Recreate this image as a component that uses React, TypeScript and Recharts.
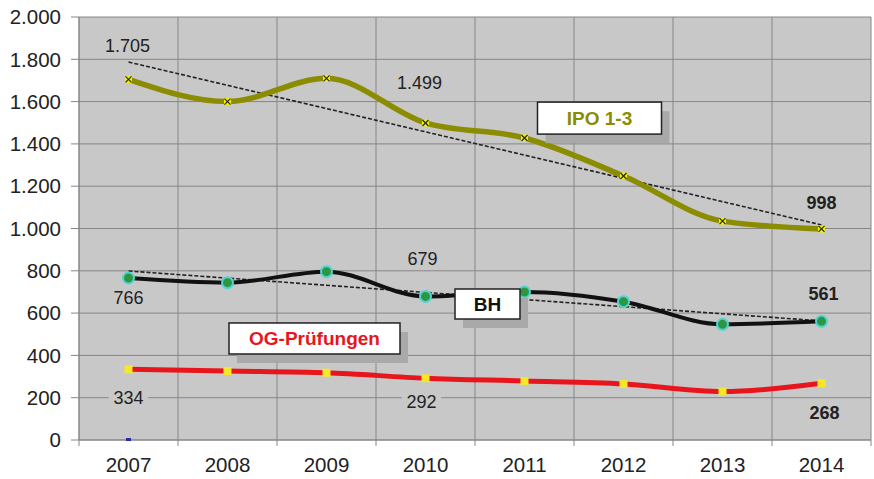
import React from 'react';
import { LineChart, Line, XAxis, YAxis, CartesianGrid, LabelList, ReferenceDot } from 'recharts';

const years = ['2007', '2008', '2009', '2010', '2011', '2012', '2013', '2014'];
const ipo = [1705, 1600, 1710, 1499, 1428, 1248, 1035, 998];
const bh = [766, 744, 796, 679, 700, 654, 547, 561];
const og = [334, 326, 318, 292, 279, 265, 229, 268];
// trend lines, only first and last year
const ipoTrend = [1787, null, null, null, null, null, null, 1017];
const bhTrend = [799, null, null, null, null, null, null, 563];
const baseMark = [0, null, null, null, null, null, null, null];
const yTicks = [0, 200, 400, 600, 800, 1000, 1200, 1400, 1600, 1800, 2000];

// which points get a value label, with offset and weight
const ipoLabels: Record<number, { dx: number; dy: number; bold?: boolean }> = {
  0: { dx: -1, dy: -34 },
  3: { dx: -6, dy: -40 },
  7: { dx: 0, dy: -26, bold: true },
};
const bhLabels: Record<number, { dx: number; dy: number; bold?: boolean }> = {
  0: { dx: 0, dy: 20 },
  3: { dx: -3, dy: -38 },
  7: { dx: 2, dy: -28, bold: true },
};
const ogLabels: Record<number, { dx: number; dy: number; bold?: boolean }> = {
  0: { dx: 0, dy: 28 },
  3: { dx: -4, dy: 23 },
  7: { dx: 3, dy: 29, bold: true },
};

const data = years.map((y, i) => ({
  year: y,
  ipo: ipo[i],
  bh: bh[i],
  og: og[i],
  ipoTrend: ipoTrend[i],
  bhTrend: bhTrend[i],
  base: baseMark[i],
}));

const W = 874;
const H = 479;
const LEFT = 79;
const RIGHT = 3;
const TOP = 17;
const BOTTOM = 39;
const BAND = (W - LEFT - RIGHT) / years.length;

const FONT = '"Liberation Sans", Arial, sans-serif';
const GRID = '#868686';

const fmt = (v: number) => String(v).replace(/\B(?=(\d{3})+(?!\d))/g, '.');

const XTick = (props: any) => {
  const { x, y, payload, index } = props;
  const top = y - 18;
  return (
    <g>
      <line x1={x - BAND / 2} x2={x - BAND / 2} y1={top} y2={top + 6} stroke={GRID} />
      {index === years.length - 1 && (
        <line x1={x + BAND / 2} x2={x + BAND / 2} y1={top} y2={top + 6} stroke={GRID} />
      )}
      <text x={x} y={y - 1} dy="0.71em" textAnchor="middle" fontSize={20.5} fill="#222" fontFamily={FONT}>
        {payload.value}
      </text>
    </g>
  );
};

const makeLabel = (cfg: Record<number, { dx: number; dy: number; bold?: boolean }>) => (props: any) => {
  const { x, y, value, index } = props;
  const c = cfg[index];
  if (!c) return null;
  const text = fmt(value);
  const w = text.length * 10.5 + 8;
  const cx = x + c.dx;
  const cy = y + c.dy;
  return (
    <g>
      <rect x={cx - w / 2} y={cy - 11} width={w} height={22} fill="#c8c8c8" />
      <text x={cx} y={cy} dy="0.36em" textAnchor="middle" fontSize={18}
        fontWeight={c.bold ? 'bold' : 'normal'} fill="#222" fontFamily={FONT}>
        {text}
      </text>
    </g>
  );
};

const crossDot = (props: any) => {
  const { cx, cy } = props;
  if (cx == null || cy == null) return null;
  return (
    <g>
      <rect x={cx - 3.5} y={cy - 3.5} width={7} height={7} fill="#f2f200" />
      <path d={`M${cx - 3} ${cy - 3}L${cx + 3} ${cy + 3}M${cx + 3} ${cy - 3}L${cx - 3} ${cy + 3}`} stroke="#222" strokeWidth={1.2} />
    </g>
  );
};

const greenDot = (props: any) => {
  const { cx, cy } = props;
  if (cx == null || cy == null) return null;
  return <circle cx={cx} cy={cy} r={5.5} fill="#2e9640" stroke="#4fd3d3" strokeWidth={2} />;
};

const squareDot = (props: any) => {
  const { cx, cy } = props;
  if (cx == null || cy == null) return null;
  return <rect x={cx - 4} y={cy - 4} width={8} height={8} fill="#f5e82a" />;
};

const baseDot = (props: any) => {
  const { cx, cy } = props;
  if (cx == null || cy == null) return null;
  return <rect x={cx - 2.5} y={cy - 2} width={5} height={3} fill="#2a2aa0" />;
};

const boxShape = (text: string, color: string, w: number, h: number, dx: number) => (props: any) => {
  const { cx, cy } = props;
  const x = cx + dx - w / 2;
  const y = cy - h / 2;
  return (
    <g>
      <rect x={x + 8} y={y + 9} width={w} height={h} fill="#a9a9a9" />
      <rect x={x} y={y} width={w} height={h} fill="#fff" stroke="#222" strokeWidth={1.5} />
      <text x={x + w / 2} y={y + h / 2} dy="0.36em" textAnchor="middle" fontSize={19}
        fontWeight="bold" fill={color} fontFamily={FONT}>
        {text}
      </text>
    </g>
  );
};

const App: React.FC = () => {
  const vPoints = Array.from({ length: years.length + 1 }, (_, i) => LEFT + i * BAND);
  return (
    <div style={{ position: 'absolute', left: 0, top: 0, width: W, height: H, background: '#fff' }}>
      <LineChart width={W} height={H} data={data} margin={{ top: TOP, right: RIGHT, left: 0, bottom: 0 }}>
        <CartesianGrid fill="#c8c8c8" stroke={GRID} strokeWidth={1}
          verticalCoordinatesGenerator={() => vPoints} />
        <XAxis dataKey="year" height={BOTTOM} axisLine={{ stroke: GRID }} tickLine={false}
          padding={{ left: BAND / 2, right: BAND / 2 }}
          tickSize={6} tickMargin={12} tick={<XTick />} interval={0} />
        <YAxis width={LEFT} domain={[0, 2000]} ticks={yTicks} tickFormatter={fmt}
          axisLine={{ stroke: GRID }} tickLine={{ stroke: GRID }} tickSize={8} tickMargin={10}
          tick={{ fontSize: 20.5, fill: '#222', fontFamily: FONT }} interval={0} />

        <Line dataKey="ipoTrend" stroke="#222" strokeWidth={1.6} strokeDasharray="4 2" dot={false}
          connectNulls isAnimationActive={false} />
        <Line dataKey="bhTrend" stroke="#222" strokeWidth={1.6} strokeDasharray="4 2" dot={false}
          connectNulls isAnimationActive={false} />

        <Line type="monotone" dataKey="ipo" stroke="#8c8c00" strokeWidth={5.5} dot={crossDot}
          isAnimationActive={false}>
          <LabelList dataKey="ipo" content={makeLabel(ipoLabels)} />
        </Line>
        <Line type="monotone" dataKey="bh" stroke="#111" strokeWidth={4} dot={greenDot}
          isAnimationActive={false}>
          <LabelList dataKey="bh" content={makeLabel(bhLabels)} />
        </Line>
        <Line type="monotone" dataKey="og" stroke="#e8161c" strokeWidth={5} dot={squareDot}
          isAnimationActive={false}>
          <LabelList dataKey="og" content={makeLabel(ogLabels)} />
        </Line>
        <Line dataKey="base" stroke="none" dot={baseDot} isAnimationActive={false} />

        <ReferenceDot x="2011" y={1522} r={0} shape={boxShape('IPO 1-3', '#8c8c00', 124, 32, 75)} />
        <ReferenceDot x="2010" y={643} r={0} shape={boxShape('BH', '#111', 65, 30, 62)} />
        <ReferenceDot x="2009" y={480} r={0} shape={boxShape('OG-Prüfungen', '#e8161c', 171, 31, -12)} />
      </LineChart>
    </div>
  );
};

export default App;
